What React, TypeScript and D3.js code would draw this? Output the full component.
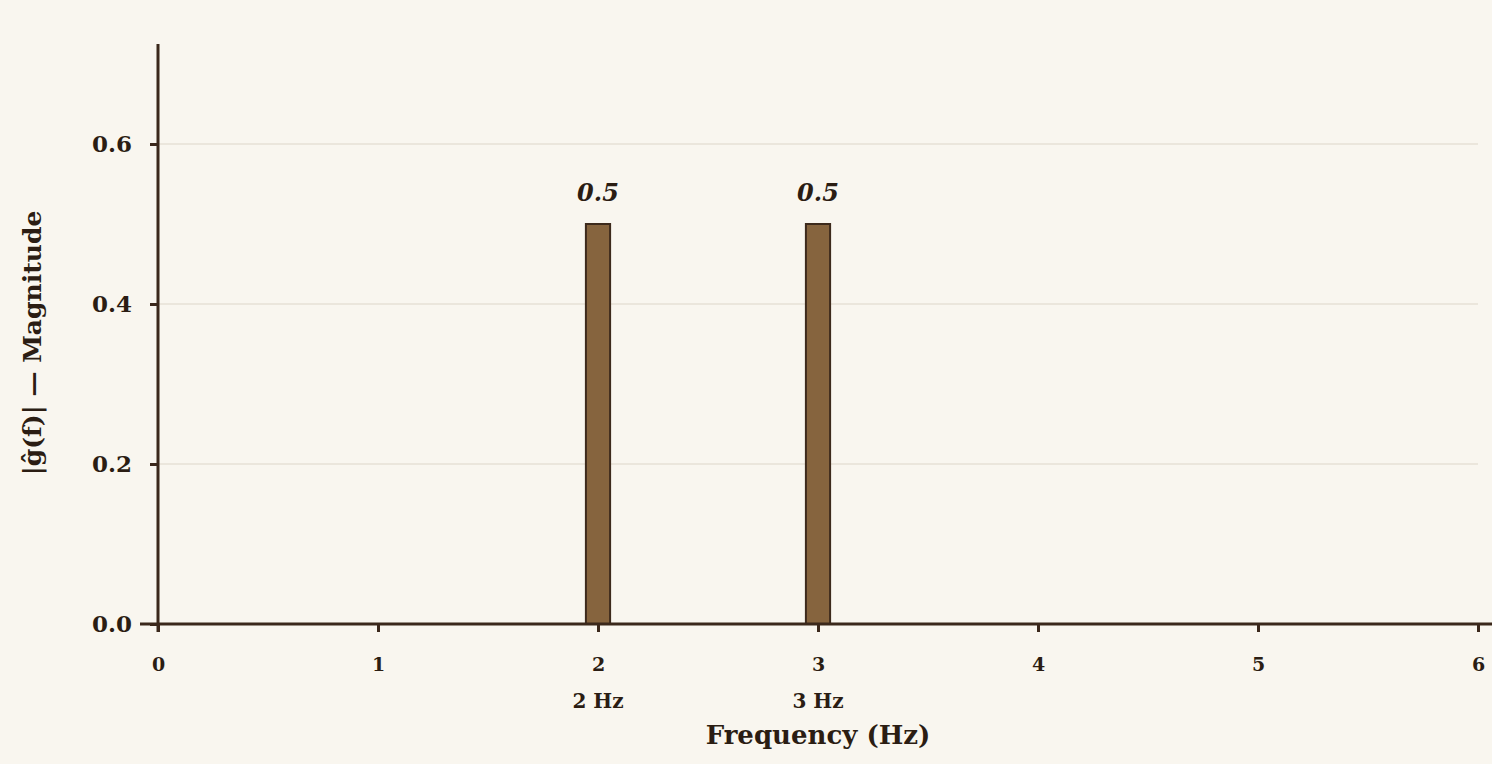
import React, { useEffect, useRef } from "react";
import * as d3 from "d3";

const frequencies = [2, 3];
const magnitudes = [0.5, 0.5];
const peakLabels = ["2 Hz", "3 Hz"];
const xTicks = [0, 1, 2, 3, 4, 5, 6];
const yTicks = [0, 0.2, 0.4, 0.6];
const xTitle = "Frequency (Hz)";
const yTitle = "|ĝ(f)| — Magnitude";

const W = 1492;
const H = 764;
const M = { left: 158, right: 14, top: 44, bottom: 140 };
const FONT = "'DejaVu Serif', Georgia, serif";
const INK = "#2b1d13";
const AXIS = "#3b281b";

export default function App() {
  const ref = useRef<SVGSVGElement | null>(null);
  useEffect(() => {
    const svg = d3.select(ref.current);
    svg.selectAll("*").remove();
    const x = d3.scaleLinear().domain([0, 6]).range([M.left, W - M.right]);
    const y = d3.scaleLinear().domain([0, 0.725]).range([H - M.bottom, M.top]);

    svg.append("rect").attr("width", W).attr("height", H).attr("fill", "#f9f6ef");

    // grid
    svg
      .append("g")
      .selectAll("line")
      .data(yTicks.filter((d) => d > 0))
      .join("line")
      .attr("x1", x(0))
      .attr("x2", x(6))
      .attr("y1", (d) => y(d))
      .attr("y2", (d) => y(d))
      .attr("stroke", "#e6e0d6")
      .attr("stroke-width", 1.5);

    // bars
    const bw = 0.11;
    svg
      .append("g")
      .selectAll("rect")
      .data(frequencies)
      .join("rect")
      .attr("x", (d) => x(d - bw / 2))
      .attr("width", x(bw) - x(0))
      .attr("y", (d, i) => y(magnitudes[i]))
      .attr("height", (d, i) => y(0) - y(magnitudes[i]))
      .attr("fill", "#86643e")
      .attr("stroke", "#3d2a1c")
      .attr("stroke-width", 2);

    // value labels
    svg
      .append("g")
      .selectAll("text")
      .data(frequencies)
      .join("text")
      .attr("x", (d) => x(d))
      .attr("y", (d, i) => y(magnitudes[i]) - 23)
      .attr("text-anchor", "middle")
      .attr("font-family", FONT)
      .attr("font-weight", "bold")
      .attr("font-style", "italic")
      .attr("font-size", 24)
      .attr("fill", INK)
      .text((d, i) => magnitudes[i].toFixed(1));

    // y axis
    const yAxis = svg
      .append("g")
      .attr("transform", `translate(${M.left},0)`)
      .call(
        d3
          .axisLeft(y)
          .tickValues(yTicks)
          .tickFormat(d3.format(".1f"))
          .tickSize(8)
          .tickPadding(18)
      );
    yAxis.attr("font-size", null).attr("font-family", null);
    yAxis.select(".domain").attr("stroke", AXIS).attr("stroke-width", 3).attr("d", `M0,${M.top}V${y(0) + 8}`);
    yAxis.selectAll(".tick line").attr("stroke", AXIS).attr("stroke-width", 3);
    yAxis
      .selectAll(".tick text")
      .attr("font-family", FONT)
      .attr("font-weight", "bold")
      .attr("font-size", 23)
      .attr("fill", INK);

    // x axis
    const xAxis = svg
      .append("g")
      .attr("transform", `translate(0,${y(0)})`)
      .call(d3.axisBottom(x).tickValues(xTicks).tickFormat(d3.format("d")).tickSize(8).tickPadding(26));
    xAxis.attr("font-size", null).attr("font-family", null);
    xAxis.select(".domain").attr("stroke", AXIS).attr("stroke-width", 3).attr("d", `M${M.left - 18},0H${W}`);
    xAxis.selectAll(".tick line").attr("stroke", AXIS).attr("stroke-width", 3);
    xAxis
      .selectAll(".tick text")
      .attr("font-family", FONT)
      .attr("font-weight", "bold")
      .attr("font-size", 19)
      .attr("fill", INK);

    // peak labels
    svg
      .append("g")
      .selectAll("text")
      .data(frequencies)
      .join("text")
      .attr("x", (d) => x(d))
      .attr("y", y(0) + 84)
      .attr("text-anchor", "middle")
      .attr("font-family", FONT)
      .attr("font-weight", "bold")
      .attr("font-size", 20)
      .attr("fill", INK)
      .text((d, i) => peakLabels[i]);

    // titles
    svg
      .append("text")
      .attr("x", x(3))
      .attr("y", y(0) + 120)
      .attr("text-anchor", "middle")
      .attr("font-family", FONT)
      .attr("font-weight", "bold")
      .attr("font-size", 26)
      .attr("fill", INK)
      .text(xTitle);

    svg
      .append("text")
      .attr("transform", `translate(41,${(y(0) + y(0.725)) / 2 + 9}) rotate(-90)`)
      .attr("text-anchor", "middle")
      .attr("font-family", FONT)
      .attr("font-weight", "bold")
      .attr("font-size", 25)
      .attr("fill", INK)
      .text(yTitle);
  }, []);

  return (
    <svg
      ref={ref}
      width={W}
      height={H}
      style={{ position: "absolute", left: 0, top: 0, display: "block" }}
    />
  );
}
